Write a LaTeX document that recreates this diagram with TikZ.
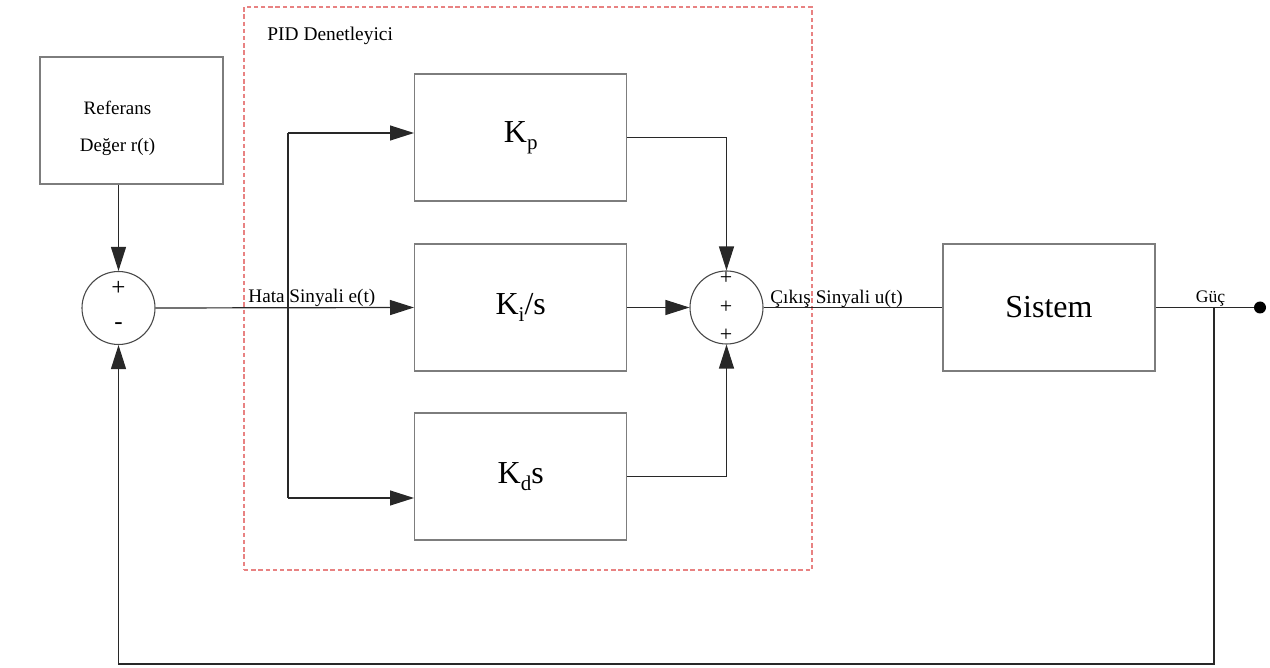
\documentclass[tikz,border=0pt]{standalone}
\usepackage{fontspec}
\setmainfont{Liberation Serif}
\usetikzlibrary{arrows.meta,calc}
\definecolor{boxline}{RGB}{125,125,125}
\definecolor{wirecol}{RGB}{40,40,40}
\definecolor{pidframe}{RGB}{232,130,130}
\newcommand{\lowsub}[1]{\raisebox{-0.45ex}{\fontsize{10.5}{11}\selectfont #1}}

\begin{document}
\begin{tikzpicture}[x=0.5pt,y=-0.5pt,
  block/.style={draw=boxline, line width=0.7pt, minimum width=106pt,
    minimum height=63.5pt, inner sep=0pt, font=\fontsize{16}{18}\selectfont},
  sumnode/.style={draw=wirecol!85, line width=0.55pt, circle,
    minimum size=36.5pt, inner sep=0pt},
  sign/.style={inner sep=0pt, font=\fontsize{11}{12}\selectfont},
  wire/.style={draw=wirecol, line width=0.6pt},
  arrow/.style={wire, -{Triangle[length=12pt,width=7.5pt]}},
  lbl/.style={inner sep=0pt, font=\fontsize{9.6}{11}\selectfont}
]
\useasboundingbox (0,0) rectangle (1270,668);

% PID controller frame
\node[draw=pidframe, line width=0.55pt, dash pattern=on 2.2pt off 1.4pt,
  minimum width=284pt, minimum height=281.5pt, inner sep=0pt] (pid) at (528,288.5) {};
\node[anchor=west, inner sep=0pt, font=\fontsize{9.7}{11}\selectfont] (pidlbl) at (267,35.5) {PID Denetleyici};

% reference block
\node[draw=boxline, line width=0.7pt, minimum width=91.5pt, minimum height=63.5pt,
  inner sep=0pt] (ref) at (131.5,120.5) {};
\node[align=center, inner sep=0pt, font=\fontsize{9.5}{18.5}\selectfont] (reftext) at (117.5,128.5)
  {Referans\\Değer r(t)};

% controller terms and plant
\node[block] (kp) at (520.7,137.5) {K\lowsub{p}};
\node[block] (ki) at (520.7,307.5) {K\lowsub{i}/s};
\node[block] (kd) at (520.7,476.5) {K\lowsub{d}s};
\node[block] (sys) at (1049,307.5) {Sistem};

% summing junctions
\node[sumnode] (s1) at (118.5,308) {};
\node[sign, font=\fontsize{12.5}{13}\selectfont] (s1p) at (118.5,288) {+};
\node[sign, font=\fontsize{12.5}{13}\selectfont] (s1m) at (118.5,326) {-};
\node[sumnode] (s2) at (726.5,307.5) {};
\node[sign] (s2a) at (726,278) {+};
\node[sign] (s2b) at (726,307) {+};
\node[sign] (s2c) at (726,335) {+};

% output terminal
\node[circle, fill=black, minimum size=6pt, inner sep=0pt] (out) at (1260,307.5) {};

% signal labels
\node[lbl, anchor=base west] (elbl) at (248,303) {Hata Sinyali e(t)};
\node[lbl, anchor=base west] (ulbl) at (770,304) {Çıkış Sinyali u(t)};
\node[lbl, anchor=base, font=\fontsize{8.8}{10}\selectfont] (glbl) at (1210.5,303) {Güç};

% branch points
\coordinate (br) at (288,307.5);
\coordinate (kpin) at ($(kp.west)+(0,-4.5)$);
\coordinate (kdin) at ($(kd.west)+(0,21.5)$);
\coordinate (tap) at (1214,307.5);
\coordinate (fb) at (1214,664);

% connectors
\draw[arrow] (ref.south -| s1.north) -- (s1.north);
\draw[arrow] (s1.east) -- (ki.west);
\draw[wire] (br |- kpin) -- (br |- kdin);
\draw[arrow] (br |- kpin) -- (kpin);
\draw[arrow] (br |- kdin) -- (kdin);
\draw[arrow] (kp.east) -| (s2.north);
\draw[arrow] (ki.east) -- (s2.west);
\draw[arrow] (kd.east) -| (s2.south);
\draw[wire] (s2.east) -- (sys.west);
\draw[wire] (sys.east) -- (out);
\draw[arrow] (tap) -- (fb) -| (s1.south);
\end{tikzpicture}
\end{document}
